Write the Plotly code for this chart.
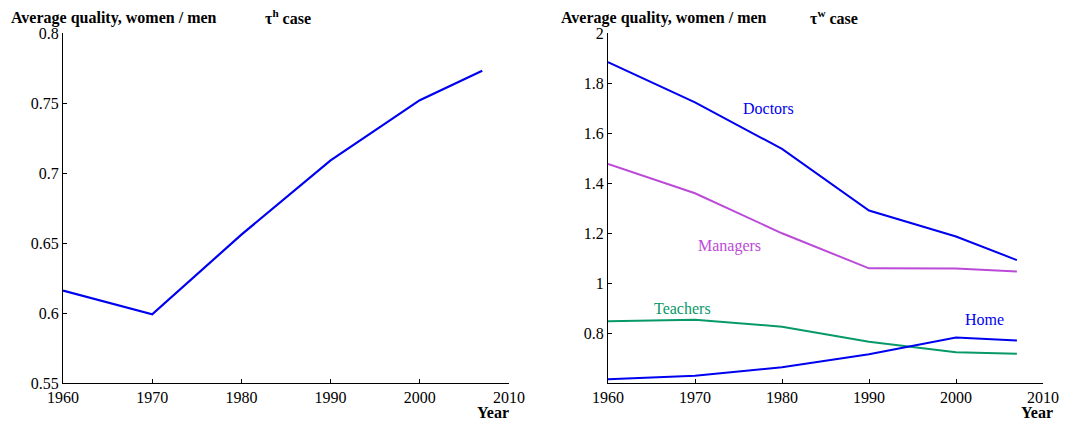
import plotly.graph_objects as go

years = [1960, 1970, 1980, 1990, 2000, 2007]
tau_h_quality = [0.616, 0.599, 0.656, 0.709, 0.752, 0.773]

doctors = [1.884, 1.723, 1.537, 1.291, 1.187, 1.093]
managers = [1.477, 1.360, 1.200, 1.060, 1.059, 1.047]
teachers = [0.849, 0.855, 0.827, 0.767, 0.725, 0.719]
home = [0.617, 0.631, 0.665, 0.717, 0.784, 0.772]

left_yticks = [0.55, 0.6, 0.65, 0.7, 0.75, 0.8]
left_yticklabels = ["0.55", "0.6", "0.65", "0.7", "0.75", "0.8"]
right_yticks = [0.8, 1.0, 1.2, 1.4, 1.6, 1.8, 2.0]
right_yticklabels = ["0.8", "1", "1.2", "1.4", "1.6", "1.8", "2"]
xticks = [1960, 1970, 1980, 1990, 2000, 2010]

BLUE = "#0000F0"
MAG = "#BC4AD8"
GREEN = "#079968"
FONT = "Liberation Serif"

# page body has an 8px default margin; figure is sized/positioned to compensate
OFF = 8
W, H = 1072 - OFF, 421 - OFF


def px(xp):
    return (xp - OFF) / W


def py(yp):
    return 1 - (yp - OFF) / H


fig = go.Figure()
fig.add_trace(go.Scatter(x=years, y=tau_h_quality, mode="lines",
                         line=dict(color=BLUE, width=2.2), xaxis="x", yaxis="y"))
for vals, col in [(doctors, BLUE), (managers, MAG), (teachers, GREEN), (home, BLUE)]:
    fig.add_trace(go.Scatter(x=years, y=vals, mode="lines",
                             line=dict(color=col, width=2), xaxis="x2", yaxis="y2"))

axis_common = dict(showgrid=False, zeroline=False, showline=True, linecolor="black",
                   linewidth=1, ticks="inside", ticklen=4, tickcolor="black",
                   automargin=False,
                   tickfont=dict(family=FONT, size=16, color="black"))

fig.update_layout(
    width=W, height=H, margin=dict(l=0, r=0, t=0, b=0, autoexpand=False),
    paper_bgcolor="white", plot_bgcolor="white", showlegend=False,
    font=dict(family=FONT),
    xaxis=dict(domain=[px(63), px(509)], range=[1960, 2010], tickvals=xticks,
               anchor="y", **axis_common),
    yaxis=dict(domain=[py(383), py(33)], range=[0.55, 0.8],
               tickvals=left_yticks, ticktext=left_yticklabels, anchor="x", **axis_common),
    xaxis2=dict(domain=[px(608), px(1043)], range=[1960, 2010], tickvals=xticks,
                anchor="y2", **axis_common),
    yaxis2=dict(domain=[py(383), py(33)], range=[0.602, 2.0],
                tickvals=right_yticks, ticktext=right_yticklabels, anchor="x2", **axis_common),
)

bold = dict(family=FONT, size=16, color="black")
anns = [
    dict(x=px(9), y=py(18), text="<b>Average quality, women / men</b>", xanchor="left"),
    dict(x=px(263), y=py(17), text="<b>τ<sup>h</sup> case</b>", xanchor="left"),
    dict(x=px(511), y=py(412), text="<b>Year</b>", xanchor="right"),
    dict(x=px(559), y=py(18), text="<b>Average quality, women / men</b>", xanchor="left"),
    dict(x=px(808), y=py(17), text="<b>τ<sup>w</sup> case</b>", xanchor="left"),
    dict(x=px(1055), y=py(412), text="<b>Year</b>", xanchor="right"),
]
for a in anns:
    fig.add_annotation(xref="paper", yref="paper", showarrow=False, yanchor="middle",
                       font=bold, **a)

labels = [("Doctors", 1975.3, 1.70, BLUE), ("Managers", 1970.1, 1.15, MAG),
          ("Teachers", 1965.0, 0.899, GREEN), ("Home", 2000.8, 0.857, BLUE)]
for txt, xv, yv, col in labels:
    fig.add_annotation(x=xv, y=yv, xref="x2", yref="y2", text=txt, showarrow=False,
                       xanchor="left", yanchor="middle",
                       font=dict(family=FONT, size=16, color=col))

fig.write_html("out.html")
